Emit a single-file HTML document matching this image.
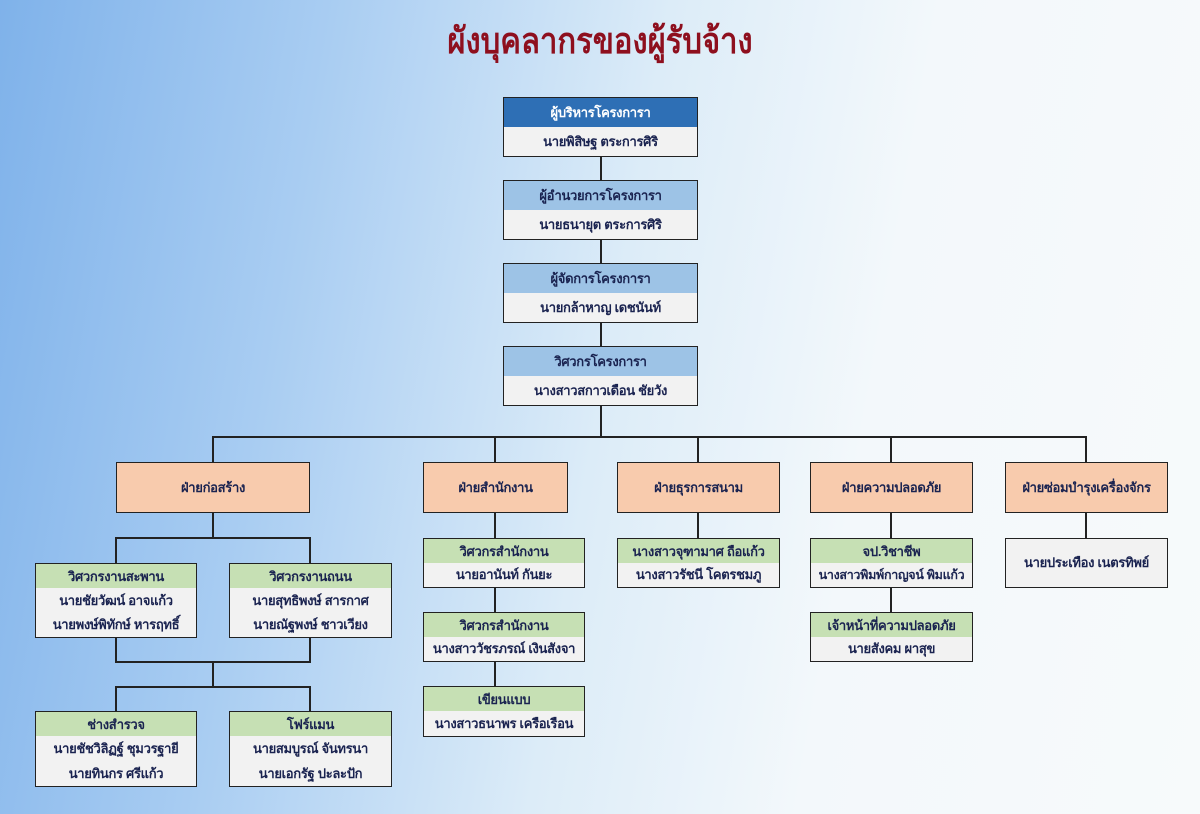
<!DOCTYPE html>
<html><head><meta charset="utf-8"><style>
*{margin:0;padding:0;box-sizing:border-box}
body{width:1200px;height:814px;overflow:hidden;position:relative;font-family:"Liberation Sans","DejaVu Sans",sans-serif;
background:linear-gradient(100deg,#7fb2ea 0%,#a9cdf2 25%,#dcecf8 50%,#f3f8fb 70%,#f7fafb 100%);}
.t{position:absolute;left:0;width:1200px;top:12px;text-align:center;font-size:36px;font-weight:bold;color:#8e0f1e;transform:scaleX(0.86);}
.b{position:absolute;border:1.5px solid #222;background:#f2f2f2;color:#1a2350;font-weight:bold;font-size:13px;letter-spacing:-0.3px;text-align:center;white-space:nowrap}
.b div{display:flex;align-items:center;justify-content:center}
.hb{background:#9dc3e6}
.hd{background:#2e6fb5;color:#fff}
.hg{background:#c6e0b4}
.o{background:#f8cbad}
.l{position:absolute;background:#222}
</style></head><body>
<div class="t">ผังบุคลากรของผู้รับจ้าง</div>

<div class="l" style="left:600px;top:156px;width:2px;height:281px"></div>
<div class="l" style="left:212px;top:436px;width:875px;height:2px"></div>
<div class="l" style="left:212px;top:437px;width:2px;height:25px"></div>
<div class="l" style="left:494px;top:437px;width:2px;height:25px"></div>
<div class="l" style="left:697px;top:437px;width:2px;height:25px"></div>
<div class="l" style="left:890px;top:437px;width:2px;height:25px"></div>
<div class="l" style="left:1085px;top:437px;width:2px;height:25px"></div>
<div class="l" style="left:212px;top:512px;width:2px;height:26px"></div>
<div class="l" style="left:115px;top:537px;width:196px;height:2px"></div>
<div class="l" style="left:115px;top:537px;width:2px;height:26px"></div>
<div class="l" style="left:309px;top:537px;width:2px;height:26px"></div>
<div class="l" style="left:115px;top:637px;width:2px;height:25px"></div>
<div class="l" style="left:309px;top:637px;width:2px;height:25px"></div>
<div class="l" style="left:115px;top:661px;width:196px;height:2px"></div>
<div class="l" style="left:212px;top:662px;width:2px;height:25px"></div>
<div class="l" style="left:115px;top:686px;width:196px;height:2px"></div>
<div class="l" style="left:115px;top:686px;width:2px;height:25px"></div>
<div class="l" style="left:309px;top:686px;width:2px;height:25px"></div>
<div class="l" style="left:494px;top:512px;width:2px;height:174px"></div>
<div class="l" style="left:697px;top:512px;width:2px;height:26px"></div>
<div class="l" style="left:890px;top:512px;width:2px;height:100px"></div>
<div class="l" style="left:1085px;top:512px;width:2px;height:26px"></div>

<div class="b" style="left:503px;top:97px;width:195px;height:60px"><div class="hd" style="height:29px">ผู้บริหารโครงการา</div><div style="height:28px">นายพิสิษฐ ตระการศิริ</div></div>
<div class="b" style="left:503px;top:180px;width:195px;height:60px"><div class="hb" style="height:29px">ผู้อำนวยการโครงการา</div><div style="height:28px">นายธนายุต ตระการศิริ</div></div>
<div class="b" style="left:503px;top:263px;width:195px;height:60px"><div class="hb" style="height:29px">ผู้จัดการโครงการา</div><div style="height:28px">นายกล้าหาญ เดชนันท์</div></div>
<div class="b" style="left:503px;top:346px;width:195px;height:60px"><div class="hb" style="height:29px">วิศวกรโครงการา</div><div style="height:28px">นางสาวสกาวเดือน ชัยวัง</div></div>

<div class="b o" style="left:116px;top:462px;width:194px;height:51px"><div style="height:48px">ฝ่ายก่อสร้าง</div></div>
<div class="b o" style="left:423px;top:462px;width:145px;height:51px"><div style="height:48px">ฝ่ายสำนักงาน</div></div>
<div class="b o" style="left:617px;top:462px;width:163px;height:51px"><div style="height:48px">ฝ่ายธุรการสนาม</div></div>
<div class="b o" style="left:810px;top:462px;width:163px;height:51px"><div style="height:48px">ฝ่ายความปลอดภัย</div></div>
<div class="b o" style="left:1005px;top:462px;width:163px;height:51px"><div style="height:48px">ฝ่ายซ่อมบำรุงเครื่องจักร</div></div>

<div class="b" style="left:35px;top:563px;width:162px;height:75px"><div class="hg" style="height:24px">วิศวกรงานสะพาน</div><div style="height:24px">นายชัยวัฒน์ อาจแก้ว</div><div style="height:24px">นายพงษ์พิทักษ์ หารฤทธิ์</div></div>
<div class="b" style="left:229px;top:563px;width:163px;height:75px"><div class="hg" style="height:24px">วิศวกรงานถนน</div><div style="height:24px">นายสุทธิพงษ์ สารกาศ</div><div style="height:24px">นายณัฐพงษ์ ชาวเวียง</div></div>
<div class="b" style="left:35px;top:711px;width:162px;height:76px"><div class="hg" style="height:24px">ช่างสำรวจ</div><div style="height:25px">นายชัชวิลิฏฐ์ ชุมวรฐายี</div><div style="height:24px">นายทินกร ศรีแก้ว</div></div>
<div class="b" style="left:229px;top:711px;width:163px;height:76px"><div class="hg" style="height:24px">โฟร์แมน</div><div style="height:25px">นายสมบูรณ์ จันทรนา</div><div style="height:24px">นายเอกรัฐ ปะละปัก</div></div>

<div class="b" style="left:423px;top:538px;width:162px;height:50px"><div class="hg" style="height:24px">วิศวกรสำนักงาน</div><div style="height:23px">นายอานันท์ กันยะ</div></div>
<div class="b" style="left:423px;top:612px;width:162px;height:50px"><div class="hg" style="height:24px">วิศวกรสำนักงาน</div><div style="height:23px">นางสาววัชรภรณ์ เงินสังจา</div></div>
<div class="b" style="left:423px;top:686px;width:162px;height:51px"><div class="hg" style="height:24px">เขียนแบบ</div><div style="height:24px">นางสาวธนาพร เครือเรือน</div></div>

<div class="b" style="left:617px;top:538px;width:163px;height:50px"><div class="hg" style="height:24px">นางสาวจุฑามาศ ถือแก้ว</div><div style="height:23px">นางสาวรัชนี โคตรชมภู</div></div>

<div class="b" style="left:810px;top:538px;width:163px;height:50px"><div class="hg" style="height:24px">จป.วิชาชีพ</div><div style="height:23px;font-size:12.5px">นางสาวพิมพ์กาญจน์ พิมแก้ว</div></div>
<div class="b" style="left:810px;top:612px;width:163px;height:50px"><div class="hg" style="height:24px">เจ้าหน้าที่ความปลอดภัย</div><div style="height:23px">นายสังคม ผาสุข</div></div>

<div class="b" style="left:1005px;top:538px;width:163px;height:50px"><div style="height:47px">นายประเทือง เนตรทิพย์</div></div>
</body></html>
